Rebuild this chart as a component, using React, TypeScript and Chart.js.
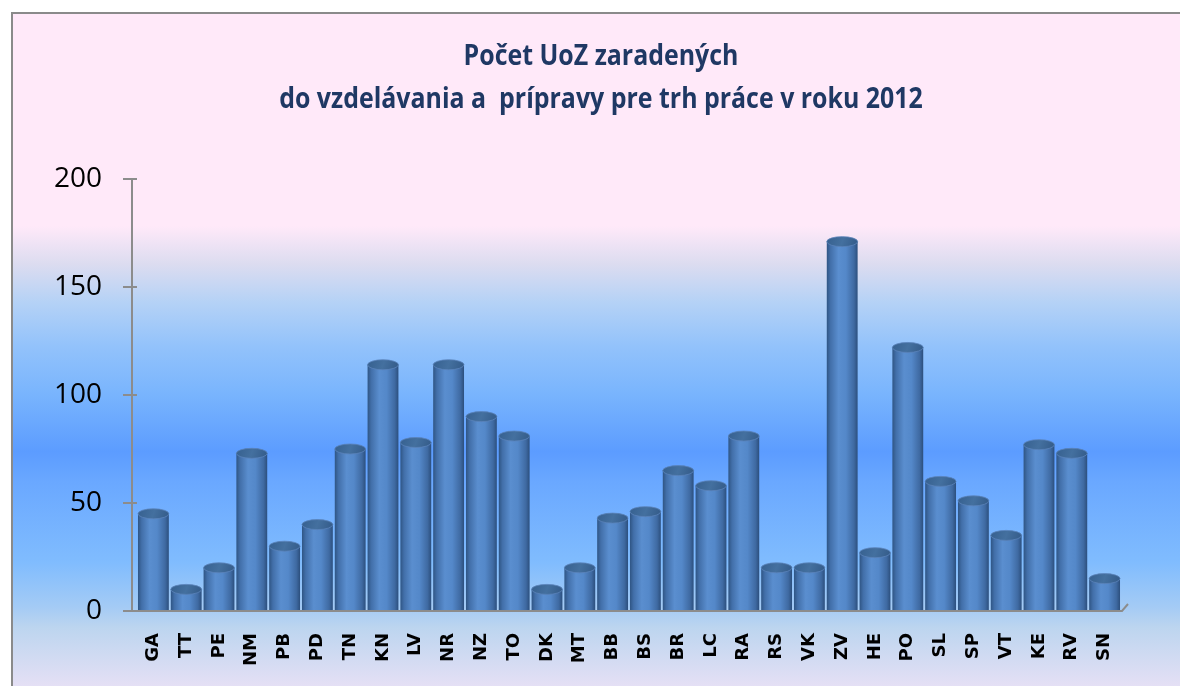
import React, { useEffect, useRef } from 'react';
import { Chart, registerables } from 'chart.js';

Chart.register(...registerables);

const categories = ['GA', 'TT', 'PE', 'NM', 'PB', 'PD', 'TN', 'KN', 'LV', 'NR', 'NZ', 'TO', 'DK', 'MT', 'BB', 'BS', 'BR', 'LC', 'RA', 'RS', 'VK', 'ZV', 'HE', 'PO', 'SL', 'SP', 'VT', 'KE', 'RV', 'SN'];
const values = [45, 10, 20, 73, 30, 40, 75, 114, 78, 114, 90, 81, 10, 20, 43, 46, 65, 58, 81, 20, 20, 171, 27, 122, 60, 51, 35, 77, 73, 15];
const yMin = 0;
const yMax = 200;
const yStep = 50;
const titleLines = ['Počet UoZ zaradených', 'do vzdelávania a  prípravy pre trh práce v roku 2012'];

const CAT_PCT = 0.94;
const AXIS_X = 132;

export default function App() {
  const ref = useRef<HTMLCanvasElement>(null);

  useEffect(() => {
    const canvas = ref.current;
    if (!canvas) return;

    const decorations = {
      id: 'decorations',
      afterDatasetsDraw(chart: any) {
        const ctx = chart.ctx;
        const meta = chart.getDatasetMeta(0);
        meta.data.forEach((el: any) => {
          const { x, y, width } = el.getProps(['x', 'y', 'width'], true);
          const rx = width / 2;
          const ry = 5;
          ctx.save();
          ctx.beginPath();
          ctx.ellipse(x, y, rx, ry, 0, 0, Math.PI * 2);
          const g = ctx.createLinearGradient(x - rx, y - ry, x + rx, y + ry);
          g.addColorStop(0, '#36608f');
          g.addColorStop(0.5, '#44709f');
          g.addColorStop(1, '#335a88');
          ctx.fillStyle = g;
          ctx.fill();
          ctx.lineWidth = 1;
          ctx.strokeStyle = 'rgba(90,130,185,0.8)';
          ctx.stroke();
          ctx.restore();
        });
      },
      afterDraw(chart: any) {
        const ctx = chart.ctx;
        const ys = chart.scales.y;
        const area = chart.chartArea;
        const y0 = ys.getPixelForValue(yMin);
        const yTop = ys.getPixelForValue(yMax);
        ctx.save();
        ctx.strokeStyle = '#8c8c8c';
        ctx.lineWidth = 2;
        // y axis line
        ctx.beginPath();
        ctx.moveTo(AXIS_X, yTop);
        ctx.lineTo(AXIS_X, y0);
        ctx.stroke();
        // tick marks crossing the axis
        ys.ticks.forEach((t: any) => {
          const py = ys.getPixelForValue(t.value);
          ctx.beginPath();
          ctx.moveTo(AXIS_X - 9, py);
          ctx.lineTo(AXIS_X + 5, py);
          ctx.stroke();
        });
        // x axis line with 3D floor end
        ctx.beginPath();
        ctx.moveTo(AXIS_X - 9, y0);
        ctx.lineTo(area.right + 1, y0);
        ctx.lineTo(area.right + 7, y0 - 7);
        ctx.stroke();
        ctx.restore();

        // title
        ctx.save();
        ctx.fillStyle = '#1f3864';
        ctx.font = "bold 28px 'Open Sans', sans-serif";
        ctx.textAlign = 'center';
        ctx.textBaseline = 'middle';
        const centers = [57, 100];
        titleLines.forEach((line, i) => {
          ctx.save();
          ctx.translate(601, centers[i]);
          ctx.scale(0.89, 1);
          ctx.fillText(line, 0, 0);
          ctx.restore();
        });
        ctx.restore();
      },
    };

    const chart = new Chart(canvas, {
      type: 'bar',
      data: {
        labels: categories,
        datasets: [
          {
            data: values,
            backgroundColor: (c: any) => {
              const ch = c.chart;
              const xs = ch.scales && ch.scales.x;
              if (!xs || c.dataIndex === undefined || !isFinite(xs.width)) return '#4f81bd';
              const cx = xs.getPixelForValue(c.dataIndex);
              const w = (xs.width / categories.length) * CAT_PCT;
              const g = ch.ctx.createLinearGradient(cx - w / 2, 0, cx + w / 2, 0);
              g.addColorStop(0, '#2f5584');
              g.addColorStop(0.12, '#426fa9');
              g.addColorStop(0.38, '#5a8ecf');
              g.addColorStop(0.62, '#5488c9');
              g.addColorStop(0.88, '#3f6aa2');
              g.addColorStop(1, '#2c4f7d');
              return g;
            },
            borderWidth: 0,
            categoryPercentage: CAT_PCT,
            barPercentage: 1,
          },
        ],
      },
      options: {
        responsive: false,
        animation: false,
        layout: { padding: { left: 0, right: 59, top: 179, bottom: 0 } },
        plugins: {
          legend: { display: false },
          tooltip: { enabled: false },
          title: { display: false },
        },
        scales: {
          x: {
            grid: { display: false, drawTicks: false },
            border: { display: false },
            ticks: {
              autoSkip: false,
              maxRotation: 90,
              minRotation: 90,
              padding: 22,
              color: '#000',
              font: { family: "'DejaVu Sans', sans-serif", size: 18, weight: 'bold' },
            },
            afterFit: (s: any) => {
              s.height = 75;
            },
          },
          y: {
            min: yMin,
            max: yMax,
            ticks: {
              stepSize: yStep,
              padding: 35,
              color: '#000',
              font: { family: "'Open Sans', sans-serif", size: 28 },
            },
            grid: { display: false, drawTicks: false },
            border: { display: false },
            afterFit: (s: any) => {
              s.width = 137;
            },
          },
        },
      },
      plugins: [decorations],
    } as any);

    return () => {
      chart.destroy();
    };
  }, []);

  const bg =
    'linear-gradient(to bottom, #ffe9f9 0px, #ffe9f9 212px, #dcdcf0 250px, #b5d2f6 288px, #92c2fb 333px, #7ab5fd 378px, #5c9cff 438px, #6aa8ff 468px, #80bcfe 548px, #a4cbf5 593px, #bcd5ef 613px, #e6e0f5 674px)';

  return (
    <div style={{ position: 'fixed', left: 0, top: 0, width: 1180, height: 686, overflow: 'hidden', background: '#fff' }}>
      <div
        style={{
          position: 'absolute',
          left: 11,
          top: 12,
          width: 1190,
          height: 700,
          boxSizing: 'border-box',
          border: '2px solid #8a8a8a',
          background: bg,
        }}
      />
      <canvas ref={ref} width={1180} height={686} style={{ position: 'absolute', left: 0, top: 0, width: 1180, height: 686 }} />
    </div>
  );
}
